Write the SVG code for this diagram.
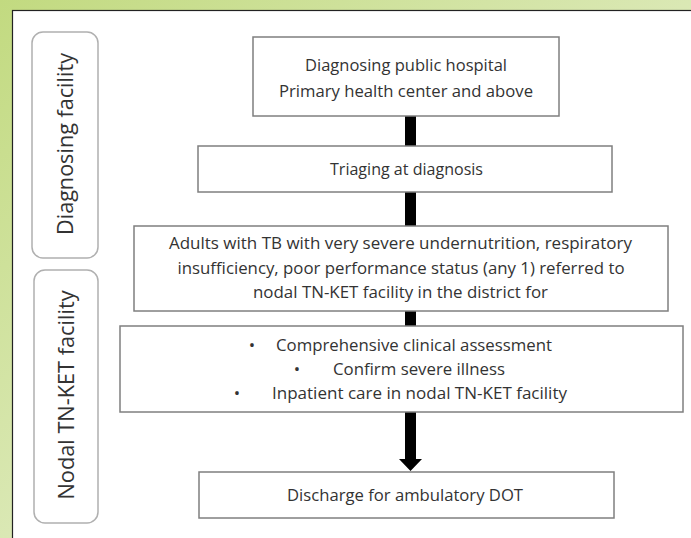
<svg xmlns="http://www.w3.org/2000/svg" width="691" height="538" viewBox="0 0 691 538">
<defs>
<linearGradient id="bg" x1="0" y1="0" x2="1" y2="1">
<stop offset="0" stop-color="#c2da80"/>
<stop offset="0.5" stop-color="#dae8b4"/>
<stop offset="1" stop-color="#eef4dc"/>
</linearGradient>
<style>
.box{fill:#fff;stroke:#7f7f7f;stroke-width:1.5}
.side{fill:#fff;stroke:#b0b0b0;stroke-width:1.5}
.t{font-family:"Open Sans","Noto Sans",sans-serif;font-size:17px;fill:#333}
.c{text-anchor:middle}
.s{font-family:"Open Sans","Noto Sans",sans-serif;font-size:21px;fill:#333;text-anchor:middle}
.bar{fill:#000}
</style>
</defs>
<rect x="0" y="0" width="691" height="538" fill="url(#bg)"/>
<rect x="12.5" y="10.5" width="700" height="600" fill="#fff" stroke="#222" stroke-width="1.2"/>

<g id="lane-diagnosing">
<rect class="side" x="32" y="32" width="66" height="226" rx="11"/>
<text class="s" transform="translate(72.5,144) rotate(-90)" textLength="182" lengthAdjust="spacingAndGlyphs">Diagnosing facility</text>
</g>
<g id="lane-nodal">
<rect class="side" x="34" y="270" width="64" height="253" rx="11"/>
<text class="s" transform="translate(74,395) rotate(-90)" textLength="209" lengthAdjust="spacingAndGlyphs">Nodal TN-KET facility</text>
</g>

<g id="connectors">
<rect class="bar" x="405" y="116" width="11" height="30"/>
<rect class="bar" x="405" y="192" width="11" height="34"/>
<rect class="bar" x="405" y="311" width="11" height="15"/>
<path class="bar" d="M405,412 H416 V459 H422 L410.5,471 L399,459 H405 Z"/>
</g>

<g id="node-hospital">
<rect class="box" x="253" y="37" width="306" height="79"/>
<text class="t c" x="406" y="71" textLength="202" lengthAdjust="spacingAndGlyphs">Diagnosing public hospital</text>
<text class="t c" x="406" y="97" textLength="254" lengthAdjust="spacingAndGlyphs">Primary health center and above</text>
</g>
<g id="node-triage">
<rect class="box" x="198" y="146" width="414" height="46"/>
<text class="t c" x="406.5" y="175" textLength="153" lengthAdjust="spacingAndGlyphs">Triaging at diagnosis</text>
</g>
<g id="node-refer">
<rect class="box" x="134" y="226" width="534" height="85"/>
<text class="t c" x="400.5" y="249" textLength="463" lengthAdjust="spacingAndGlyphs">Adults with TB with very severe undernutrition, respiratory</text>
<text class="t c" x="401" y="274" textLength="447" lengthAdjust="spacingAndGlyphs">insufficiency, poor performance status (any 1) referred to</text>
<text class="t c" x="400.5" y="298" textLength="295" lengthAdjust="spacingAndGlyphs">nodal TN-KET facility in the district for</text>
</g>
<g id="node-care">
<rect class="box" x="120" y="326" width="563" height="86"/>
<text class="t c" x="252" y="351">•</text>
<text class="t" x="276" y="351" textLength="276" lengthAdjust="spacingAndGlyphs">Comprehensive clinical assessment</text>
<text class="t c" x="297" y="375">•</text>
<text class="t" x="333" y="375" textLength="172" lengthAdjust="spacingAndGlyphs">Confirm severe illness</text>
<text class="t c" x="237" y="399">•</text>
<text class="t" x="272" y="399" textLength="295" lengthAdjust="spacingAndGlyphs">Inpatient care in nodal TN-KET facility</text>
</g>
<g id="node-discharge">
<rect class="box" x="199" y="472" width="415" height="46"/>
<text class="t c" x="405" y="501" textLength="236" lengthAdjust="spacingAndGlyphs">Discharge for ambulatory DOT</text>
</g>
</svg>
